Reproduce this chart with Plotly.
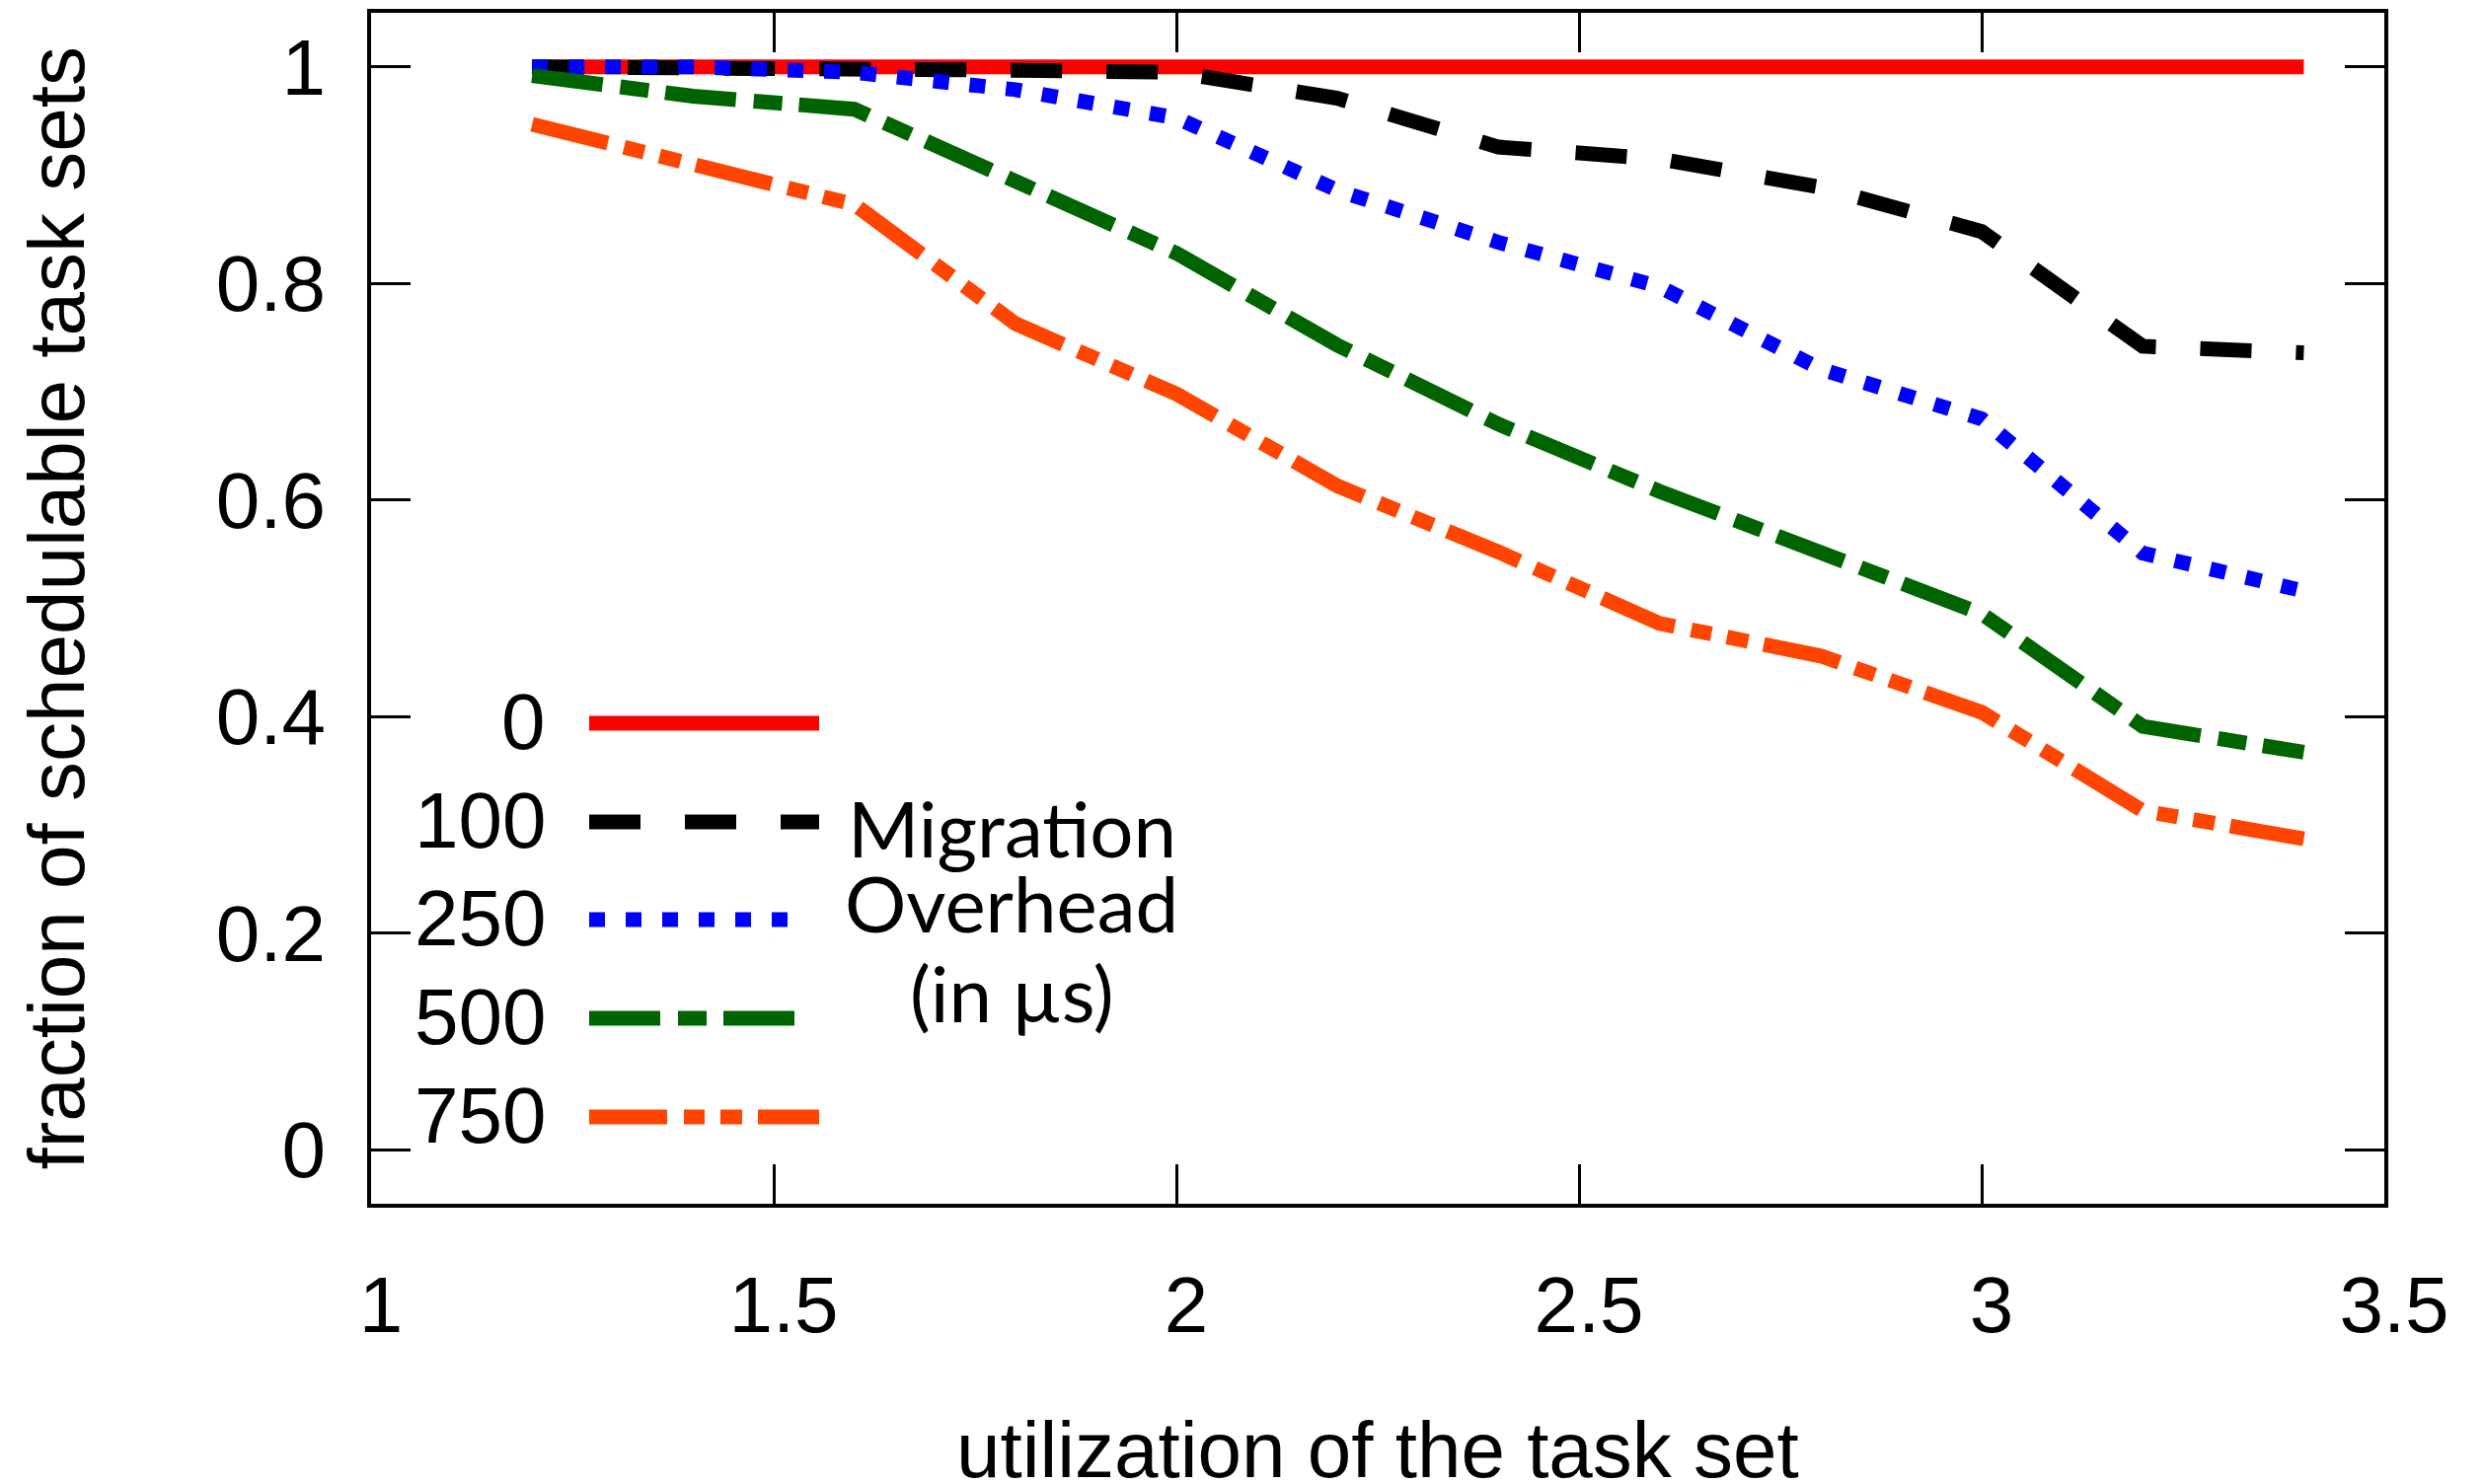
import plotly.graph_objects as go

###############################################################################
# Data
###############################################################################
utilization = [1.2, 1.4, 1.6, 1.8, 2.0, 2.2, 2.4, 2.6, 2.8, 3.0, 3.2, 3.4]

overhead_labels = ["0", "100", "250", "500", "750"]

sched_0 = [1.0, 1.0, 1.0, 1.0, 1.0, 1.0, 1.0, 1.0, 1.0, 1.0, 1.0, 1.0]
sched_100 = [1.0, 1.0, 1.0, 0.997, 0.995, 0.971, 0.926, 0.915, 0.889, 0.848, 0.742, 0.736]
sched_250 = [1.0, 1.0, 0.995, 0.979, 0.953, 0.886, 0.838, 0.797, 0.721, 0.675, 0.551, 0.516]
sched_500 = [0.992, 0.973, 0.961, 0.894, 0.828, 0.743, 0.670, 0.608, 0.550, 0.495, 0.391, 0.367]
sched_750 = [0.947, 0.911, 0.873, 0.763, 0.698, 0.613, 0.552, 0.486, 0.456, 0.404, 0.313, 0.287]

x_ticks = [1, 1.5, 2, 2.5, 3, 3.5]
x_tick_labels = ["1", "1.5", "2", "2.5", "3", "3.5"]
y_ticks = [0, 0.2, 0.4, 0.6, 0.8, 1]
y_tick_labels = ["0", "0.2", "0.4", "0.6", "0.8", "1"]

series = [sched_0, sched_100, sched_250, sched_500, sched_750]
colors = ["#ff0000", "#000000", "#0000ff", "#006400", "#ff4500"]
dashes = ["solid", "52px,45px", "16px,21px", "72px,18px,29px,17px",
          "79px,17px,21px,16px,22px,16px"]

###############################################################################
# Layout helpers (reference pixel -> paper coordinates)
###############################################################################
W, H = 2517, 1504
L, R, T, B = 376, 2416, 13, 1220
BODY = 8  # the html page body adds an 8px margin


def px(x):
    return (x - L) / (R - L)


def py(y):
    return (B - y) / (B - T)


TICK_FONT = dict(family="Liberation Sans, Arial, sans-serif", size=80, color="black")
GILL_FONT = dict(family="Lato, Noto Sans, sans-serif", size=78, color="black")

###############################################################################
# Figure
###############################################################################
fig = go.Figure()

for name, ys, col, dsh in zip(overhead_labels, series, colors, dashes):
    fig.add_trace(go.Scatter(x=utilization, y=ys, mode="lines", name=name,
                             line=dict(color=col, width=15, dash=dsh),
                             showlegend=False))

# Hand-drawn legend (labels left of the line samples, like gnuplot)
row_y = [733, 833, 932, 1032, 1132]
sample_end = [830, 830, 805, 805, 830]
shapes = []
annotations = []
for lab, col, dsh, ry, xe in zip(overhead_labels, colors, dashes, row_y, sample_end):
    shapes.append(dict(type="line", xref="paper", yref="paper",
                       x0=px(597), x1=px(xe), y0=py(ry), y1=py(ry),
                       line=dict(color=col, width=15, dash=dsh)))
    annotations.append(dict(text=lab, xref="paper", yref="paper",
                            x=px(555), y=py(ry - 2), xanchor="right",
                            yanchor="middle", showarrow=False, font=TICK_FONT))

for txt, ty in zip(["Migration", "Overhead", "(in µs)"], [839, 915, 1006]):
    annotations.append(dict(text=txt, xref="paper", yref="paper",
                            x=px(1025), y=py(ty), xanchor="center",
                            yanchor="middle", showarrow=False, font=GILL_FONT))

# Axis titles
annotations.append(dict(text="utilization of the task set", xref="paper", yref="paper",
                        x=0.5, y=py(1469), xanchor="center", yanchor="middle",
                        showarrow=False, font=TICK_FONT))
annotations.append(dict(text="fraction of schedulable task sets", xref="paper",
                        yref="paper", x=px(57), y=0.5, xanchor="center",
                        yanchor="middle", textangle=-90, showarrow=False,
                        font=TICK_FONT))

axis_common = dict(showline=True, linecolor="black", linewidth=4, mirror="ticks",
                   ticks="inside", ticklen=40, tickwidth=3, tickcolor="black",
                   showgrid=False, zeroline=False, tickfont=TICK_FONT)

fig.update_layout(
    width=W - BODY, height=H - BODY,
    margin=dict(l=L - BODY, r=W - R, t=T - BODY, b=H - B, autoexpand=False),
    paper_bgcolor="white", plot_bgcolor="white",
    xaxis=dict(range=[1, 3.5], tickvals=x_ticks, ticktext=x_tick_labels,
               ticklabelstandoff=30, ticklabelshift=10, **axis_common),
    yaxis=dict(range=[-0.05, 1.05], tickvals=y_ticks, ticktext=y_tick_labels,
               ticklabelstandoff=26, **axis_common),
    shapes=shapes,
    annotations=annotations,
)

fig.write_html("out.html")
